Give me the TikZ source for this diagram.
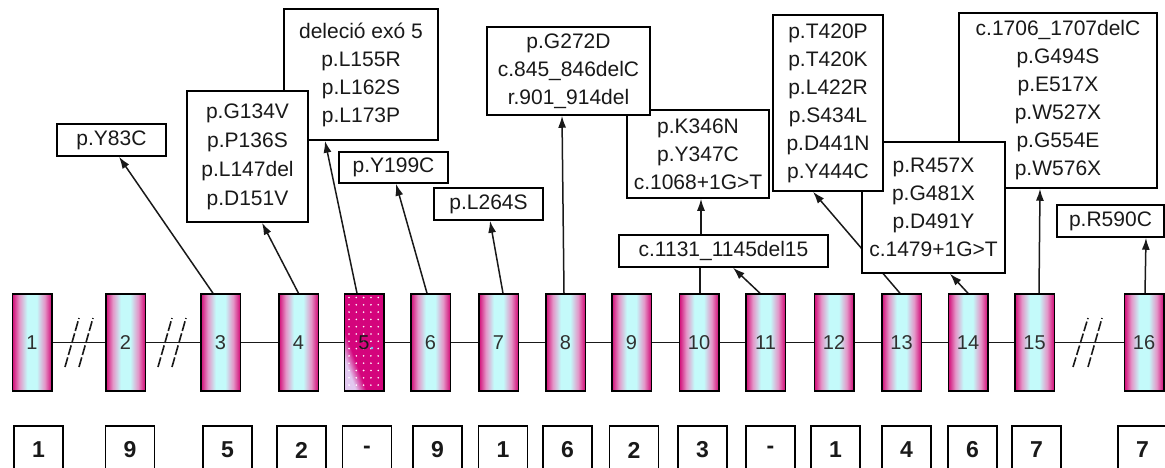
\documentclass[tikz,border=0pt]{standalone}
\usepackage{fontspec}
\setmainfont{Liberation Sans}
\usetikzlibrary{arrows.meta,backgrounds}
\definecolor{exmag}{RGB}{212,24,126}
\definecolor{expink}{RGB}{228,150,200}
\definecolor{excy}{RGB}{196,250,250}
\definecolor{fivemag}{RGB}{212,4,124}
\definecolor{fivelt}{RGB}{226,200,240}
\definecolor{txt}{RGB}{25,25,25}
\pgfdeclarehorizontalshading{exonshade}{100bp}{color(0bp)=(exmag); color(26bp)=(exmag); color(34bp)=(expink); color(44bp)=(excy); color(56bp)=(excy); color(66bp)=(expink); color(74bp)=(exmag); color(100bp)=(exmag)}
\pgfdeclarehorizontalshading{fiveshade}{100bp}{color(0bp)=(fivelt); color(28bp)=(fivelt); color(37bp)=(fivemag); color(100bp)=(fivemag)}
\tikzset{
  exon/.style={draw=black, line width=1.5pt, shade, shading=exonshade, minimum width=39.5pt, minimum height=97pt, inner sep=0pt, font=\fontsize{20}{24}\selectfont, text=txt!90!white},
  exfive/.style={exon, shading=fiveshade, shading angle=20},
  mut/.style={draw=black, line width=1.5pt, fill=white, inner sep=0pt, align=center, font=\fontsize{21}{28}\selectfont, text=txt},
  cnt/.style={draw=black, line width=1.5pt, fill=white, inner sep=0pt, minimum width=49pt, minimum height=48pt, font=\bfseries\fontsize{23}{26}\selectfont, text=txt},
  arr/.style={draw=txt, line width=1.5pt, -{Latex[length=12pt,width=8pt]}},
  plain/.style={draw=txt, line width=1.5pt},
  slash/.style={draw=txt, line width=1.6pt, dash pattern=on 10pt off 2.5pt},
}
\begin{document}
\begin{tikzpicture}[x=1pt,y=-1pt]
\useasboundingbox (0,0) rectangle (1165,468);
\clip (0,0) rectangle (1165,468);
% exons
\foreach \x/\n in {32/1,125.5/2,220.5/3,298.5/4,430.5/6,498.5/7,565.5/8,631.5/9,699/10,765.5/11,834/12,901.5/13,968/14,1034.5/15,1144/16}
  \node[exon] (e\n) at (\x,342.5) {\n};
\node[exfive] (e5) at (364,342.5) {};
\foreach \i in {0,...,4}
  \foreach \j in {0,...,12}
    \fill[white] (349+\i*7.3, 297.5+\j*7.3) circle (0.9);
\fill[cyan!60!white] (372,348) circle (1.3);
\node[font=\fontsize{20}{24}\selectfont, text=txt] at (364,342.5) {5};
% slashes
\draw[slash] (65,367) -- (79,318);
\draw[slash] (79,367) -- (93,318);
\draw[slash] (158,367) -- (172,318);
\draw[slash] (172,367) -- (186,318);
\draw[slash] (1073,367) -- (1088,318);
\draw[slash] (1088,367) -- (1102,318);
% mutation boxes
\node[mut, minimum width=154pt, minimum height=131pt] (b155) at (361,74.5) {deleció exó 5\\p.L155R\\p.L162S\\p.L173P};
\node[mut, minimum width=121pt, minimum height=131pt, font=\fontsize{21}{29}\selectfont] (b134) at (247.5,156.5) {p.G134V\\p.P136S\\p.L147del\\p.D151V};
\node[mut, minimum width=109pt, minimum height=32pt] (b83) at (111.5,140) {p.Y83C};
\node[mut, minimum width=109pt, minimum height=31pt] (b199) at (393.5,167.5) {p.Y199C};
\node[mut, minimum width=109pt, minimum height=32pt] (b264) at (488.5,204) {p.L264S};
\node[mut, minimum width=142pt, minimum height=88pt] (b346) at (698,154) {p.K346N\\p.Y347C\\c.1068+1G>T};
\node[mut, minimum width=163pt, minimum height=88pt] (b272) at (568.5,71) {p.G272D\\c.845\_846delC\\r.901\_914del};
\node[mut, minimum width=209pt, minimum height=32pt] (b1131) at (723.5,251) {c.1131\_1145del15};
\node[mut, minimum width=198pt, minimum height=175pt] (b1706) at (1058,100.5) {c.1706\_1707delC\\p.G494S\\p.E517X\\p.W527X\\p.G554E\\p.W576X};
\node[mut, minimum width=143pt, minimum height=131pt] (b457) at (933.5,207.5) {p.R457X\\p.G481X\\p.D491Y\\c.1479+1G>T};
\node[mut, minimum width=110pt, minimum height=176pt] (b420) at (828,103) {p.T420P\\p.T420K\\p.L422R\\p.S434L\\p.D441N\\p.Y444C};
\node[mut, minimum width=107pt, minimum height=32pt] (b590) at (1110.5,221) {p.R590C};
% count boxes
\foreach \x/\n/\t in {38.5/1/1,130/2/9,227.5/3/5,301.5/4/2,367/5/-,437.5/6/9,503/7/1,567.5/8/6,634/9/2,702.5/10/3,770.5/11/-,835.5/12/1,906.5/13/4,972.5/14/6,1036.5/15/7,1142.5/16/7}
  \node[cnt] (n\n) at (\x,450) {\t};
% connectors (behind boxes)
\begin{scope}[on background layer]
\draw[plain] (e1.center) -- (e16.center);
\draw[arr] ([xshift=-7.5pt]e3.north) -- ([xshift=7.5pt]b83.south);
\draw[arr] (e4.north) -- ([xshift=14.5pt]b134.south);
\draw[arr] ([xshift=-7pt]e5.north) -- ([xshift=-36pt]b155.south);
\draw[arr] ([xshift=-3.5pt]e6.north) -- ([xshift=2.5pt]b199.south);
\draw[arr] ([xshift=4.5pt]e7.north) -- ([xshift=1.5pt]b264.south);
\draw[arr] ([xshift=-1.5pt]e8.north) -- ([xshift=-6.5pt]b272.south);
\draw[plain] ([xshift=1pt]e10.north) -- ([xshift=-23.5pt]b1131.south);
\draw[arr] ([xshift=-5.5pt]e11.north) -- ([xshift=9.5pt]b1131.south);
\draw[arr] ([xshift=-22.5pt]b1131.north) -- ([xshift=3pt]b346.south);
\draw[arr] ([xshift=-1.5pt]e13.north) -- ([xshift=-15pt]b420.south);
\draw[arr] (e14.north) -- ([xshift=16.5pt]b457.south);
\draw[arr] ([xshift=4.5pt]e15.north) -- ([xshift=-18pt]b1706.south);
\draw[arr] ([xshift=1pt]e16.north) -- ([xshift=35.5pt]b590.south);
\end{scope}
\end{tikzpicture}
\end{document}
